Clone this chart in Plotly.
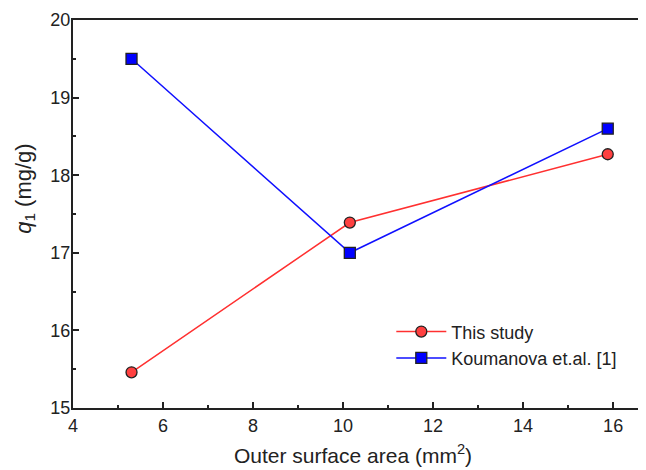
import plotly.graph_objects as go

x_this = [5.3, 10.15, 15.88]
y_this = [15.46, 17.39, 18.27]
x_kou = [5.3, 10.15, 15.88]
y_kou = [19.5, 17.0, 18.6]
series_names = ["This study", "Koumanova et.al. [1]"]
x_ticks = [4, 6, 8, 10, 12, 14, 16]
y_ticks = [15, 16, 17, 18, 19, 20]

FONT = "Liberation Sans, Arial, sans-serif"

fig = go.Figure()
fig.add_trace(go.Scatter(
    x=x_this, y=y_this, name=series_names[0], mode="lines+markers",
    line=dict(color="#ff3030", width=1.5),
    marker=dict(symbol="circle", size=11, color="#ff4040", line=dict(color="#222222", width=1.3)),
))
fig.add_trace(go.Scatter(
    x=x_kou, y=y_kou, name=series_names[1], mode="lines+markers",
    line=dict(color="#1010ff", width=1.5),
    marker=dict(symbol="square", size=11, color="#0000ff", line=dict(color="#222222", width=1.3)),
))

axis_common = dict(
    showgrid=False, zeroline=False, showline=True, linecolor="#222222", linewidth=2,
    ticks="inside", ticklen=6, tickwidth=1.5, tickcolor="#222222",
    tickfont=dict(family=FONT, size=18, color="#222222"),
)
fig.update_xaxes(range=[4, 16.73], tickvals=x_ticks, mirror=True,
                 minor=dict(ticks="inside", ticklen=3, dtick=1, tick0=4, tickcolor="#222222", tickwidth=1.5),
                 **axis_common)
fig.update_yaxes(range=[15, 20], tickvals=y_ticks, mirror=False, ticklabelstandoff=-3,
                 minor=dict(ticks="inside", ticklen=3, dtick=0.5, tick0=15, tickcolor="#222222", tickwidth=1.5),
                 **axis_common)

fig.add_annotation(text="Outer surface area (mm<sup>2</sup>)", xref="paper", yref="paper",
                   x=0.4895, y=-0.118, xanchor="center", yanchor="middle", showarrow=False,
                   font=dict(family=FONT, size=21, color="#222222"))
fig.add_annotation(text="<i>q</i><sub>1</sub> (mg/g)", xref="paper", yref="paper",
                   x=-0.084, y=0.567, xanchor="center", yanchor="middle", showarrow=False,
                   textangle=-90, font=dict(family=FONT, size=22, color="#222222"))

# page body has an 8px default margin; compensate so the plot area lands where the reference has it
fig.update_layout(
    width=638, height=462,
    margin=dict(l=65, r=0, t=12, b=62),
    paper_bgcolor="white", plot_bgcolor="white",
    legend=dict(x=0.5555, y=0.244, xanchor="left", yanchor="top",
                font=dict(family=FONT, size=18, color="#222222"),
                bgcolor="rgba(0,0,0,0)", tracegroupgap=0, itemwidth=50),
    font=dict(family=FONT),
)

fig.write_html("out.html")
